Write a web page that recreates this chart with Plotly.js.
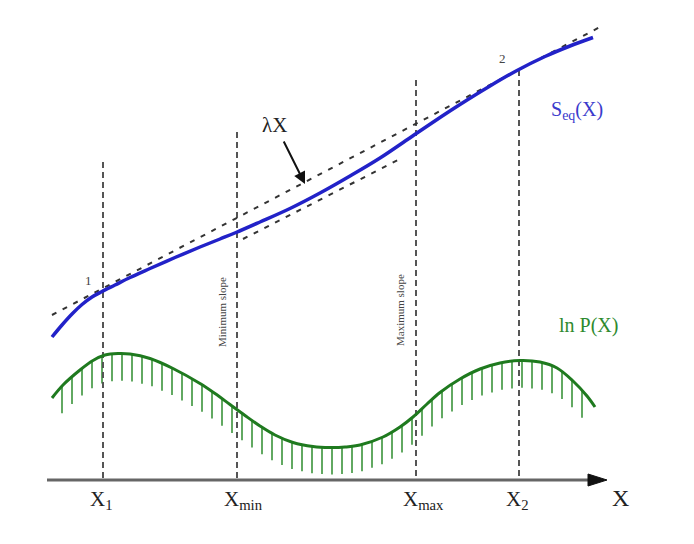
<!DOCTYPE html>
<html>
<head>
<meta charset="utf-8">
<script src="https://cdn.plot.ly/plotly-3.0.1.min.js"></script>
<style>html,body{margin:0;padding:0;background:#fff;}#chart{width:694px;height:544px;}</style>
</head>
<body>
<div id="chart"></div>
<script>
// Schematic data (horizontal coordinate X, vertical value; vertical axis drawn downward)
const seqX = [52, 62, 72, 82, 92, 102, 115, 130, 150, 175, 200, 220, 236, 260, 290, 320, 350, 380, 414, 440, 460, 490, 517, 545, 570, 593];
const seqY = [337, 325, 314, 304.5, 297, 291.5, 285, 277.5, 268.5, 257.5, 247, 239, 232.5, 222, 208.5, 193, 176, 158, 135, 117.5, 104.5, 86, 70.5, 56.5, 46, 37.5];

const lnpX = [52, 63, 80, 93, 105, 118, 130, 150, 173, 200, 215, 230, 245, 260, 275, 293, 313, 330, 345, 360, 383, 400, 413, 427, 440, 460, 480, 500, 520, 540, 557, 573, 587, 595];
const lnpY = [398, 385, 370, 360.5, 355, 353.5, 354, 358.5, 368.5, 383.5, 393.5, 404.5, 415.5, 426, 435, 442.5, 446.5, 447.5, 447, 445, 437, 427, 417, 404, 392.5, 379, 369, 363, 360.5, 362, 368, 381, 396, 407];

const lambdaX = [52, 600];
const lambdaY = [315, 27];
const lowerX = [243, 398];
const lowerY = [239, 160];

const markX = [103, 237, 416, 519];
const markTop = [162, 132, 80, 70];
const markLabels = ['X<sub>1</sub>', 'X<sub>min</sub>', 'X<sub>max</sub>', 'X<sub>2</sub>'];
const axisBase = 480;

const hatchStart = 62, hatchStep = 10, hatchEnd = 586, hatchLen = 27;

function interp(xs, ys, x) {
  for (let i = 0; i < xs.length - 1; i++) {
    if (x >= xs[i] && x <= xs[i + 1]) {
      const t = (x - xs[i]) / (xs[i + 1] - xs[i]);
      return ys[i] + t * (ys[i + 1] - ys[i]);
    }
  }
  return null;
}

const hx = [], hy = [];
for (let x = hatchStart; x <= hatchEnd; x += hatchStep) {
  const y = interp(lnpX, lnpY, x);
  if (y === null) continue;
  hx.push(x, x, null); hy.push(y, y + hatchLen, null);
}

const vx = [], vy = [];
markX.forEach((x, i) => { vx.push(x, x, null); vy.push(markTop[i], axisBase, null); });

const traces = [
  {x: hx, y: hy, mode: 'lines', line: {color: 'rgba(45,140,45,0.75)', width: 2}, hoverinfo: 'skip'},
  {x: vx, y: vy, mode: 'lines', line: {color: '#555', width: 2, dash: '6px,4px'}, hoverinfo: 'skip'},
  {x: lambdaX, y: lambdaY, mode: 'lines', line: {color: '#333', width: 2, dash: '5px,7px'}, hoverinfo: 'skip'},
  {x: lowerX, y: lowerY, mode: 'lines', line: {color: '#333', width: 2, dash: '5px,7px'}, hoverinfo: 'skip'},
  {x: lnpX, y: lnpY, mode: 'lines', line: {color: '#1f7a1f', width: 3, shape: 'spline', smoothing: 1}, hoverinfo: 'skip'},
  {x: seqX, y: seqY, mode: 'lines', line: {color: '#2222c8', width: 3.5, shape: 'spline', smoothing: 1}, hoverinfo: 'skip'}
];

const serif = 'Liberation Serif, Times New Roman, serif';
const annotations = [];
markX.forEach((x, i) => {
  annotations.push({x: x, y: 500, xref: 'x', yref: 'y', text: markLabels[i], showarrow: false,
    xanchor: 'left', xshift: -15, font: {family: serif, size: 21, color: '#222'}});
});
annotations.push({x: 620, y: 498, text: 'X', showarrow: false, font: {family: serif, size: 24, color: '#222'}});
annotations.push({x: 274, y: 125, text: 'λX', showarrow: false, font: {family: serif, size: 21, color: '#222'}});
annotations.push({x: 305, y: 184, ax: 283, ay: 140, axref: 'x', ayref: 'y', text: '', showarrow: true,
  arrowhead: 2, arrowsize: 1.2, arrowwidth: 2, arrowcolor: '#111'});
annotations.push({x: 577, y: 110, text: 'S<sub>eq</sub>(X)', showarrow: false, font: {family: serif, size: 20, color: '#3a3acc'}});
annotations.push({x: 588, y: 325, text: 'ln P(X)', showarrow: false, font: {family: serif, size: 20, color: '#2e8a2e'}});
annotations.push({x: 88, y: 280, text: '1', showarrow: false, font: {family: serif, size: 13, color: '#444'}});
annotations.push({x: 502, y: 58, text: '2', showarrow: false, font: {family: serif, size: 13, color: '#444'}});
annotations.push({x: 222, y: 312, text: 'Minimum slope', textangle: -90, showarrow: false, font: {family: serif, size: 11, color: '#444'}});
annotations.push({x: 400, y: 310, text: 'Maximum slope', textangle: -90, showarrow: false, font: {family: serif, size: 11, color: '#444'}});

const layout = {
  width: 694, height: 544,
  margin: {l: 0, r: 0, t: 0, b: 0},
  paper_bgcolor: '#fff', plot_bgcolor: '#fff',
  showlegend: false,
  xaxis: {range: [0, 694], visible: false, fixedrange: true},
  yaxis: {range: [544, 0], visible: false, fixedrange: true},
  shapes: [
    {type: 'line', xref: 'x', yref: 'y', x0: 47, x1: 592, y0: axisBase, y1: axisBase, line: {color: '#666', width: 3}},
    {type: 'path', xref: 'x', yref: 'y', path: 'M 588 474 L 607 480 L 588 486 Z', fillcolor: '#111', line: {color: '#111', width: 1}}
  ],
  annotations: annotations
};

Plotly.newPlot('chart', traces, layout, {staticPlot: true, displayModeBar: false});
</script>
</body>
</html>
